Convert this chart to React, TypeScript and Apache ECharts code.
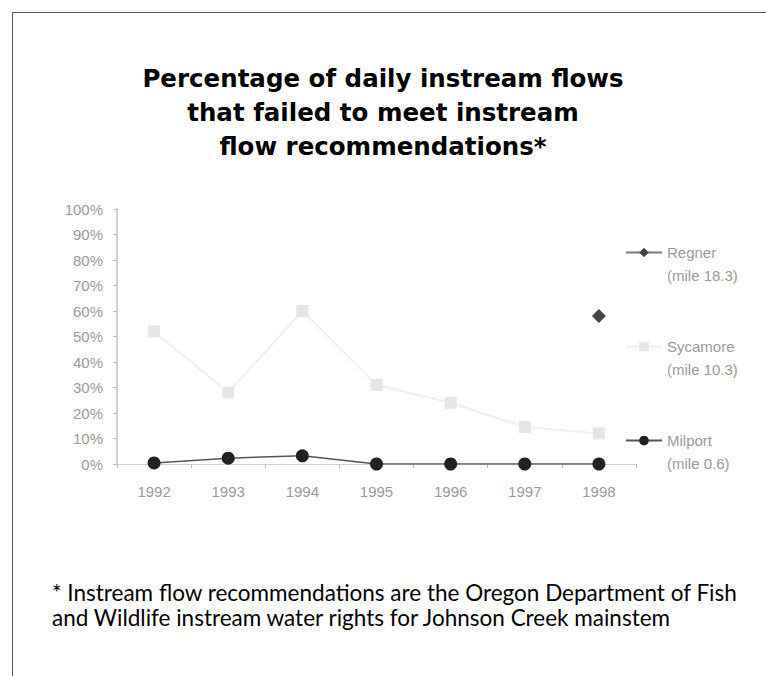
import React, { useEffect, useRef } from 'react';
import * as echarts from 'echarts';

const years = ['1992', '1993', '1994', '1995', '1996', '1997', '1998'];
const regner = [null, null, null, null, null, null, 58];
const sycamore = [52, 28, 60, 31, 24, 14.5, 12];
const milport = [0.4, 2.3, 3.2, 0, 0, 0, 0];
const seriesNames = ['Regner', 'Sycamore', 'Milport'];
const seriesMiles: Record<string, string> = {
  Regner: '(mile 18.3)',
  Sycamore: '(mile 10.3)',
  Milport: '(mile 0.6)',
};
const titleText = 'Percentage of daily instream flows\nthat failed to meet instream\nflow recommendations*';
const footnoteLines = [
  '* Instream flow recommendations are the Oregon Department of Fish',
  'and Wildlife instream water rights for Johnson Creek mainstem',
];

export default function App() {
  const ref = useRef<HTMLDivElement>(null);
  useEffect(() => {
    if (!ref.current) return;
    const chart = echarts.init(ref.current, undefined, { renderer: 'svg' });
    const labelGray = '#9a9a9a';
    chart.setOption({
      animation: false,
      backgroundColor: '#ffffff',
      title: {
        text: titleText,
        left: 'center',
        top: 56,
        textStyle: {
          fontFamily: 'DejaVu Sans',
          fontWeight: 'bold',
          fontSize: 24.5,
          lineHeight: 34,
          color: '#000',
        },
      },
      grid: { left: 117, right: 130, top: 209, bottom: 212 },
      legend: {
        orient: 'vertical',
        left: 620,
        top: 213,
        itemWidth: 36,
        itemHeight: 12,
        itemGap: 25,
        data: seriesNames,
        formatter: (name: string) => `\n${name}\n${seriesMiles[name]}`,
        textStyle: {
          fontFamily: 'Liberation Sans',
          fontSize: 15,
          lineHeight: 23,
          color: labelGray,
        },
      },
      xAxis: {
        type: 'category',
        data: years,
        boundaryGap: true,
        axisLine: { lineStyle: { color: '#d0d0d0', width: 1 } },
        axisTick: { show: true, length: 4, lineStyle: { color: '#bbbbbb' } },
        axisLabel: {
          margin: 20,
          fontFamily: 'Liberation Sans',
          fontSize: 15,
          color: labelGray,
        },
      },
      yAxis: {
        type: 'value',
        min: 0,
        max: 100,
        interval: 10,
        splitLine: { show: false },
        axisLine: { show: true, lineStyle: { color: '#d0d0d0', width: 2 } },
        axisTick: { show: true, length: 4, lineStyle: { color: '#bbbbbb' } },
        axisLabel: {
          formatter: '{value}%',
          margin: 14,
          fontFamily: 'Liberation Sans',
          fontSize: 15,
          color: labelGray,
        },
      },
      series: [
        {
          name: 'Sycamore',
          type: 'line',
          data: sycamore,
          symbol: 'rect',
          symbolSize: 12,
          itemStyle: { color: '#e6e6e6' },
          lineStyle: { color: '#f0f0f0', width: 2 },
          z: 1,
        },
        {
          name: 'Regner',
          type: 'line',
          data: regner,
          symbol: 'diamond',
          symbolSize: 14,
          itemStyle: { color: '#444444' },
          lineStyle: { color: '#777777', width: 1 },
          z: 3,
        },
        {
          name: 'Milport',
          type: 'line',
          data: milport,
          symbol: 'circle',
          symbolSize: 13,
          itemStyle: { color: '#222222' },
          lineStyle: { color: '#555555', width: 1.5 },
          z: 2,
        },
      ],
      graphic: [
        {
          type: 'line',
          shape: { x1: 12, y1: 12.5, x2: 766, y2: 12.5 },
          style: { stroke: '#555', lineWidth: 1 },
        },
        {
          type: 'line',
          shape: { x1: 12.5, y1: 12, x2: 12.5, y2: 676 },
          style: { stroke: '#555', lineWidth: 1 },
        },
        {
          type: 'text',
          left: 52,
          top: 581,
          style: {
            text: footnoteLines[0],
            fontFamily: 'Lato',
            fontSize: 22.5,
            fill: '#000',
          },
        },
        {
          type: 'text',
          left: 52,
          top: 606,
          style: {
            text: footnoteLines[1],
            fontFamily: 'Lato',
            fontSize: 22.5,
            fill: '#000',
          },
        },
      ],
    });
    return () => chart.dispose();
  }, []);
  return (
    <div
      ref={ref}
      style={{ position: 'fixed', left: 0, top: 0, width: 766, height: 676 }}
    />
  );
}
